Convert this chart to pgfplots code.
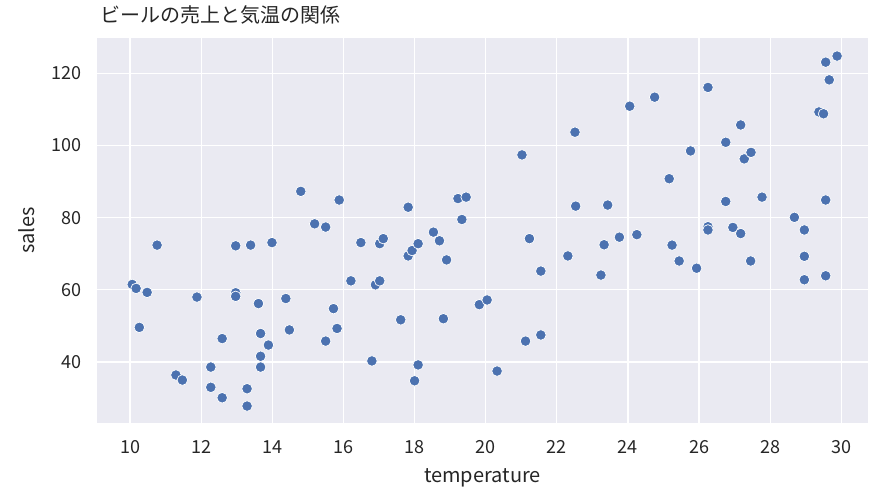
\documentclass[border=0pt]{standalone}
\usepackage{fontspec}
\setmainfont{Noto Sans CJK JP}
\usepackage{pgfplots}
\pgfplotsset{compat=1.18}
\usepackage{pgfplotstable}

\definecolor{sbbg}{HTML}{EAEAF2}
\definecolor{sbblue}{HTML}{4C72B0}
\definecolor{sbtext}{HTML}{262626}

% temperature vs sales
\pgfplotstableread{
temperature sales
10.06 61.5
10.17 60.4
10.48 59.3
10.26 49.6
10.76 72.4
11.29 36.4
11.47 35.0
11.88 58.0
12.27 38.6
12.27 33.0
12.59 46.5
12.59 30.1
12.97 72.2
12.97 59.2
12.97 58.2
13.29 32.6
13.29 27.8
13.39 72.4
13.61 56.2
13.67 47.9
13.67 41.6
13.67 38.6
13.89 44.7
13.99 73.1
14.38 57.6
14.48 48.9
14.80 87.3
15.19 78.3
15.50 77.4
15.50 45.8
15.72 54.8
15.88 84.9
15.82 49.3
16.21 62.5
16.49 73.1
16.80 40.3
16.90 61.4
17.02 62.5
17.02 72.8
17.12 74.2
17.61 51.7
17.82 82.9
17.82 69.4
17.93 70.9
18.00 34.8
18.10 72.8
18.10 39.2
18.53 76.0
18.70 73.6
18.81 52.0
18.90 68.3
19.22 85.3
19.45 85.7
19.33 79.5
19.82 55.9
20.04 57.2
20.32 37.5
21.02 97.4
21.12 45.8
21.23 74.2
21.55 65.2
21.55 47.5
22.31 69.4
22.51 103.7
22.53 83.2
23.24 64.1
23.33 72.5
23.43 83.5
23.76 74.6
24.05 110.9
24.25 75.3
24.75 113.4
25.16 90.8
25.24 72.4
25.44 68.0
25.76 98.5
25.93 66.0
26.25 116.1
26.25 77.5
26.25 76.6
26.75 100.9
26.75 84.5
26.95 77.3
27.17 105.7
27.17 75.6
27.27 96.3
27.46 98.1
27.45 68.0
27.77 85.7
28.68 80.1
28.96 76.6
28.96 69.3
28.96 62.8
29.37 109.3
29.50 108.8
29.56 123.1
29.56 84.9
29.56 63.9
29.66 118.2
29.88 124.8
}\beerdata

\begin{document}
\begin{tikzpicture}
\useasboundingbox (-97pt,-76pt) rectangle (794pt,423pt);
\begin{axis}[
    at={(0,0)}, anchor=south west,
    scale only axis,
    width=771pt, height=385pt,
    xmin=9.07, xmax=30.75,
    ymin=23.1, ymax=129.8,
    xtick={10,12,...,30},
    ytick={40,60,...,120},
    axis background/.style={fill=sbbg},
    axis line style={draw=none},
    major tick length=0pt,
    grid=major,
    major grid style={white, line width=1.2pt},
    /pgf/number format/assume math mode=true,
    tick label style={font=\fontsize{18}{20}\selectfont, text=sbtext},
    xticklabel style={yshift=-14pt},
    yticklabel style={xshift=-12pt},
    label style={font=\fontsize{20}{22}\selectfont, text=sbtext},
    xlabel={temperature},
    ylabel={sales},
    xlabel style={yshift=-8pt},
    ylabel style={yshift=10pt},
    title={ビールの売上と気温の関係},
    title style={at={(0,1)}, anchor=base west, yshift=9pt,
        font=\fontsize{20}{22}\selectfont, text=sbtext},
    clip=false,
]
\addplot[only marks, mark=*, mark size=5.3pt,
    mark options={fill=sbblue, draw=white, line width=0.7pt}]
    table[x=temperature, y=sales] {\beerdata};
\end{axis}
\end{tikzpicture}
\end{document}
